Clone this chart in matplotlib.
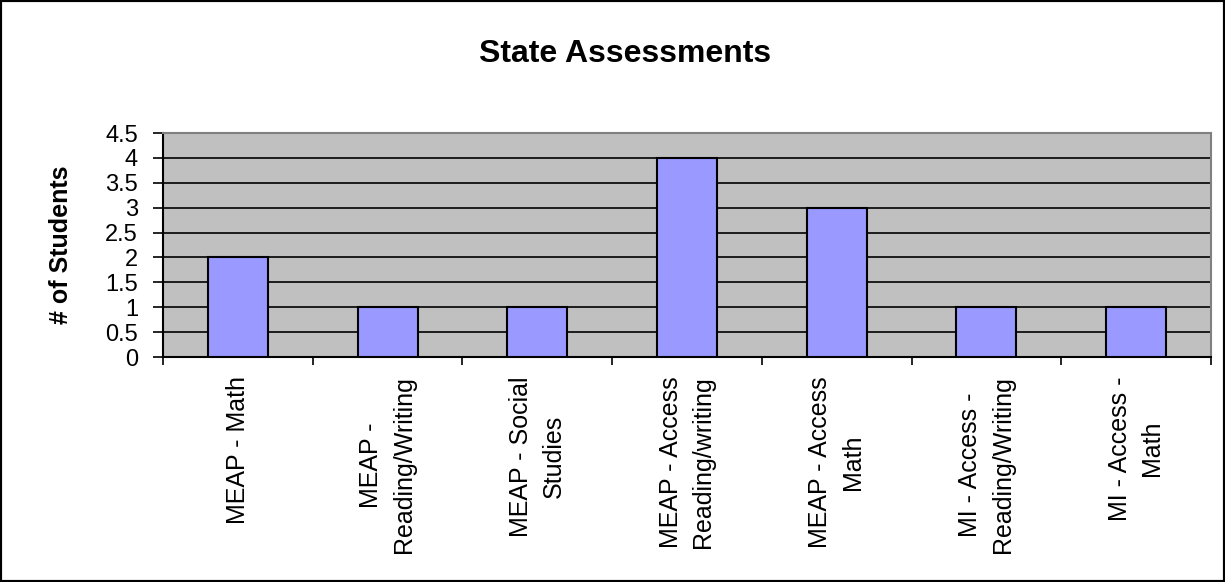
import numpy as np
import matplotlib.pyplot as plt
from matplotlib.patches import Rectangle

plt.rcParams['font.family'] = ['Liberation Sans', 'DejaVu Sans']

# data
categories = ['MEAP - Math', 'MEAP -\nReading/Writing', 'MEAP - Social\nStudies',
              'MEAP - Access\nReading/writing', 'MEAP - Access\nMath',
              'MI - Access -\nReading/Writing', 'MI - Access -\nMath']
students = [2, 1, 1, 4, 3, 1, 1]
y_ticks = [0, 0.5, 1, 1.5, 2, 2.5, 3, 3.5, 4, 4.5]
y_tick_labels = ['0', '0.5', '1', '1.5', '2', '2.5', '3', '3.5', '4', '4.5']

fig = plt.figure(figsize=(12.25, 5.82), dpi=100)
ax = fig.add_axes([163 / 1225, 1 - 357 / 582, (1211 - 163) / 1225, (357 - 133) / 582])
ax.set_facecolor('#C0C0C0')

x = np.arange(len(categories))
ax.bar(x, students, width=0.4, color='#9999FF', edgecolor='black', linewidth=1.5, zorder=3)

ax.set_xlim(-0.5, len(categories) - 0.5)
ax.set_ylim(0, 4.5)

# y axis
ax.set_yticks(y_ticks)
ax.set_yticklabels(y_tick_labels, fontsize=17)
ax.tick_params(axis='y', length=7, width=1.2, pad=11, color='black')
ax.yaxis.grid(True, color='black', linewidth=1.2, zorder=1)
ax.set_axisbelow(True)

# x axis: ticks at category boundaries, labels at centres
ax.set_xticks(np.arange(-0.5, len(categories), 1.0))
ax.set_xticklabels([])
ax.tick_params(axis='x', which='major', length=6, width=1.2, direction='out')
ax.set_xticks(x, minor=True)
ax.set_xticklabels(categories, minor=True, rotation=90, fontsize=18, linespacing=1.45)
ax.tick_params(axis='x', which='minor', length=0, pad=14)
for lab in ax.get_xticklabels(minor=True):
    lab.set_multialignment('center')

for side in ['top', 'right']:
    ax.spines[side].set_color('#808080')
    ax.spines[side].set_linewidth(1.5)
for side in ['left', 'bottom']:
    ax.spines[side].set_color('black')
    ax.spines[side].set_linewidth(1.5)

fig.text(0.51, 1 - 54 / 582, 'State Assessments', fontsize=23, fontweight='bold',
         ha='center', va='center')
fig.text(61 / 1225, 1 - 245 / 582, '# of Students', fontsize=18, fontweight='bold',
         rotation=90, ha='center', va='center')

fig.patches.append(Rectangle((0, 0), 1, 1, transform=fig.transFigure, fill=False,
                             edgecolor='black', linewidth=3))

fig.savefig('out.png', dpi=100)
